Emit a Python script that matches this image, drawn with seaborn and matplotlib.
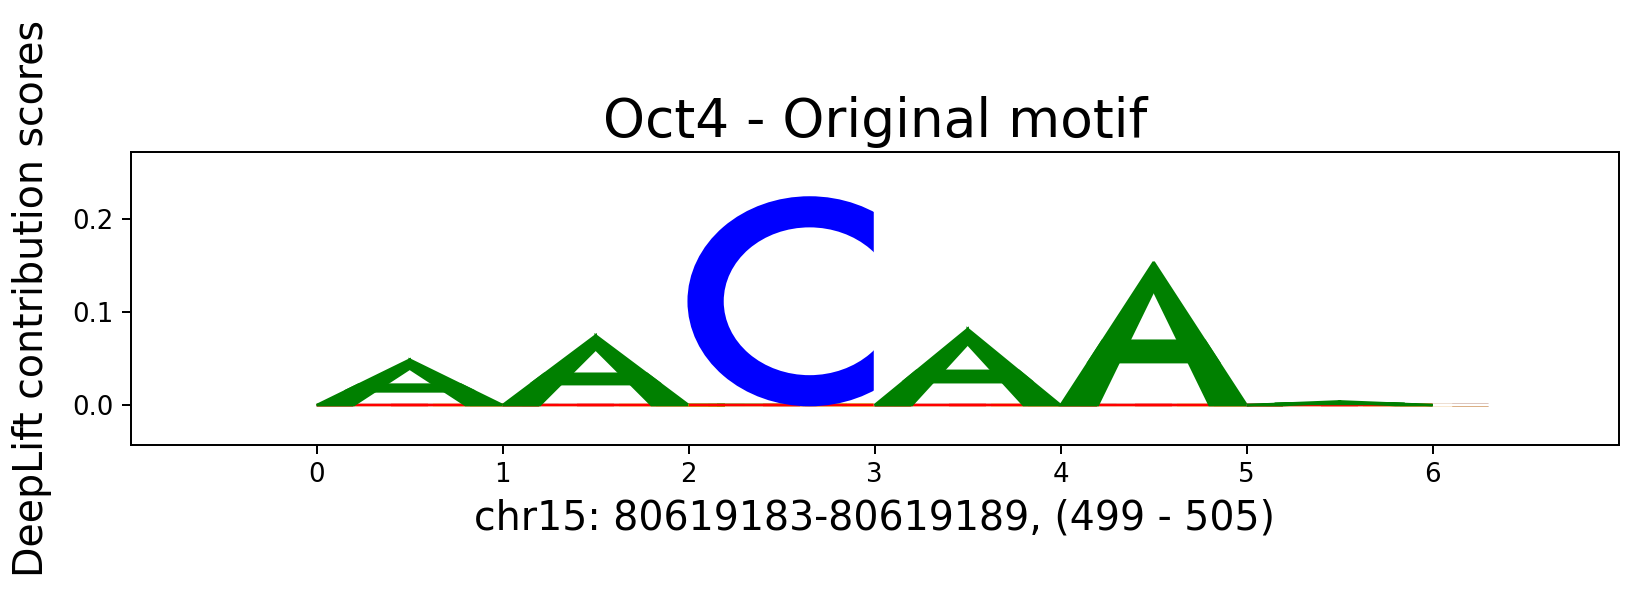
import numpy as np
import matplotlib
matplotlib.use("Agg")
import matplotlib.pyplot as plt
import matplotlib.patches as mpatches
import seaborn as sns

sns.set_style("ticks", {"axes.edgecolor": "black", "xtick.color": "black", "ytick.color": "black",
                        "text.color": "black", "axes.labelcolor": "black",
                        "xtick.direction": "out", "ytick.direction": "out"})
plt.rcParams['font.family'] = ['DejaVu Sans']

# sequence and DeepLift scores (one score per position, on the observed base)
bases = ['A', 'A', 'C', 'A', 'A', 'A']
scores = [0.049, 0.075, 0.2235, 0.082, 0.154, 0.004]
letters = ['A', 'C', 'G', 'T']
letter_colors = ['green', 'blue', 'orange', 'red']

title = 'Oct4 - Original motif'
xlabel = 'chr15: 80619183-80619189, (499 - 505)'
ylabel = 'DeepLift contribution scores'


def plot_a(ax, base, left_edge, height, color):
    polys = [
        np.array([[0.0, 0.0], [0.5, 1.0], [0.5, 0.8], [0.2, 0.0]]),
        np.array([[1.0, 0.0], [0.5, 1.0], [0.5, 0.8], [0.8, 0.0]]),
        np.array([[0.225, 0.45], [0.775, 0.45], [0.85, 0.3], [0.15, 0.3]]),
    ]
    for p in polys:
        ax.add_patch(mpatches.Polygon(np.array([1, height])[None, :] * p + np.array([left_edge, base])[None, :],
                                      facecolor=color, edgecolor=color))


def plot_c(ax, base, left_edge, height, color):
    ax.add_patch(mpatches.Ellipse(xy=[left_edge + 0.65, base + 0.5 * height], width=1.3, height=height,
                                  facecolor=color, edgecolor=color))
    ax.add_patch(mpatches.Ellipse(xy=[left_edge + 0.65, base + 0.5 * height], width=0.7 * 1.3, height=0.7 * height,
                                  facecolor='white', edgecolor='white'))
    ax.add_patch(mpatches.Rectangle(xy=[left_edge + 1, base], width=1.0, height=height,
                                    facecolor='white', edgecolor='white', fill=True))


def plot_g(ax, base, left_edge, height, color):
    plot_c(ax, base, left_edge, height, color)
    ax.add_patch(mpatches.Rectangle(xy=[left_edge + 0.825, base + 0.085 * height], width=0.174, height=0.415 * height,
                                    facecolor=color, edgecolor=color, fill=True))
    ax.add_patch(mpatches.Rectangle(xy=[left_edge + 0.625, base + 0.35 * height], width=0.374, height=0.15 * height,
                                    facecolor=color, edgecolor=color, fill=True))


def plot_t(ax, base, left_edge, height, color):
    ax.add_patch(mpatches.Rectangle(xy=[left_edge + 0.4, base], width=0.2, height=height,
                                    facecolor=color, edgecolor=color, fill=True))
    ax.add_patch(mpatches.Rectangle(xy=[left_edge, base + 0.8 * height], width=1.0, height=0.2 * height,
                                    facecolor=color, edgecolor=color, fill=True))


plot_funcs = {'A': plot_a, 'C': plot_c, 'G': plot_g, 'T': plot_t}

# score matrix: scores times one-hot encoding
arr = np.zeros((len(bases), 4))
for i, (b, s) in enumerate(zip(bases, scores)):
    arr[i, letters.index(b)] = s

fig = plt.figure(figsize=(1638 / 178, 603 / 178), dpi=178)
ax = fig.add_axes([0.0798, 0.262, 0.9084, 0.486])

for i in range(arr.shape[0]):
    acts = sorted(enumerate(arr[i, :]), key=lambda x: abs(x[1]))
    pos_so_far = 0.0
    neg_so_far = 0.0
    for idx, val in acts:
        if val > 0:
            b0 = pos_so_far
            pos_so_far += val
        else:
            b0 = neg_so_far
            neg_so_far += val
        plot_funcs[letters[idx]](ax, b0, i, val, letter_colors[idx])

ax.set_xlim(-1, len(bases) + 1)
ax.set_xticks(np.arange(0, len(bases) + 1, 1))
ax.set_ylim(-0.043, 0.2725)
ax.set_yticks([0.0, 0.1, 0.2])
ax.tick_params(labelsize=10.5, length=3.5, width=0.8)
for s in ax.spines.values():
    s.set_linewidth(0.8)
    s.set_visible(True)

ax.set_title(title, fontsize=21.6)
ax.set_xlabel(xlabel, fontsize=16)
ax.set_ylabel(ylabel, fontsize=16)
ax.yaxis.set_label_coords(-0.053, 0.5)

fig.savefig('out.png', dpi=178)
